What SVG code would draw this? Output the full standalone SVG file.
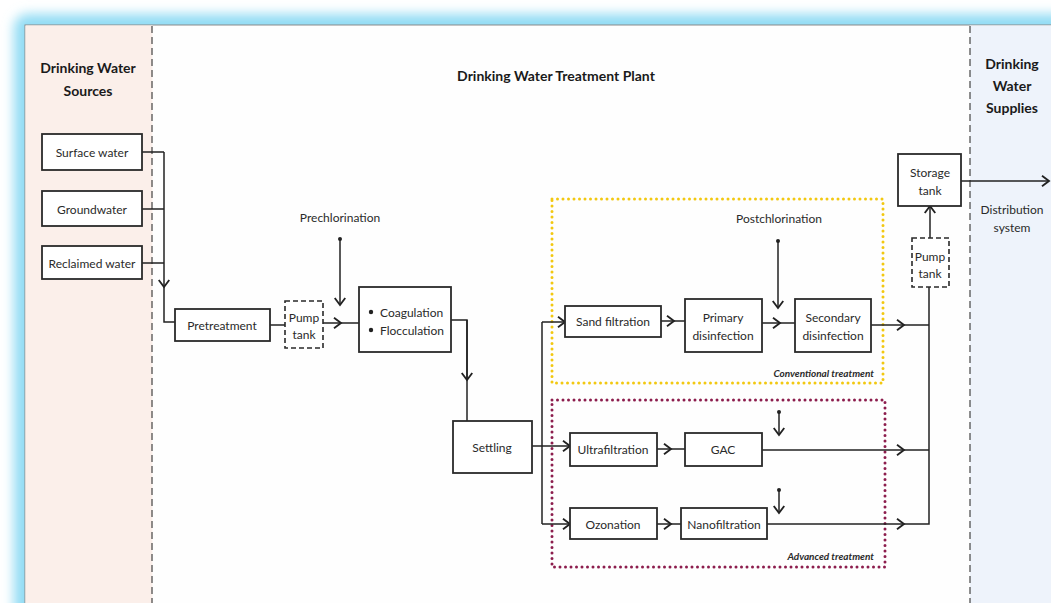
<svg xmlns="http://www.w3.org/2000/svg" width="1051" height="603" viewBox="0 0 1051 603">
<defs>
<filter id="glow" x="-5%" y="-5%" width="110%" height="110%"><feGaussianBlur stdDeviation="6"/></filter>
<marker id="chev" markerUnits="userSpaceOnUse" markerWidth="14" markerHeight="14" viewBox="-8 -6 10 12" refX="0" refY="0" orient="auto"><path d="M-6,-4.5 L0,0 L-6,4.5" fill="none" stroke="#222" stroke-width="1.6"/></marker>
<style>
text{font-family:Lato,"Open Sans","Liberation Sans",sans-serif;fill:#2a2a2a;text-anchor:middle;dominant-baseline:central;font-size:12px}
.title{font-weight:bold;font-size:14px;fill:#1a1a1a}
.box{fill:#fff;stroke:#2a2a2a;stroke-width:1.8}
.dash{fill:#fff;stroke:#2a2a2a;stroke-width:1.6;stroke-dasharray:5,3}
.ln{fill:none;stroke:#222;stroke-width:1.5}
.arr{fill:none;stroke:#222;stroke-width:1.5;marker-end:url(#chev)}
.note{font-size:10px;font-style:italic;font-weight:bold;text-anchor:end}
</style>
</defs>
<rect x="0" y="0" width="1051" height="603" fill="#fff"/>
<rect x="14" y="14" width="1100" height="700" rx="14" fill="#92dcf4" filter="url(#glow)"/>
<rect x="25" y="25" width="1040" height="600" fill="#fefefe" stroke="#8a8a8a" stroke-width="1"/>
<rect x="25.5" y="25.5" width="127" height="590" fill="#fbefea"/>
<rect x="970" y="25.5" width="90" height="590" fill="#eef3fb"/>
<line x1="152" y1="26" x2="152" y2="603" stroke="#444" stroke-width="1.2" stroke-dasharray="7,4"/>
<line x1="970" y1="26" x2="970" y2="603" stroke="#444" stroke-width="1.2" stroke-dasharray="7,4"/>

<g id="titles">
<text class="title" x="88" y="67">Drinking Water</text>
<text class="title" x="88" y="90">Sources</text>
<text class="title" x="556" y="75">Drinking Water Treatment Plant</text>
<text class="title" x="1012" y="63">Drinking</text>
<text class="title" x="1012" y="85">Water</text>
<text class="title" x="1012" y="107">Supplies</text>
</g>

<g id="groups">
<rect x="552" y="199" width="331" height="184" fill="none" stroke="#f2c811" stroke-width="3" stroke-dasharray="0,5.5" stroke-linecap="round"/>
<text class="note" x="874" y="373">Conventional treatment</text>
<rect x="552" y="400" width="333" height="167" fill="none" stroke="#8c1d4d" stroke-width="3" stroke-dasharray="0,5.5" stroke-linecap="round"/>
<text class="note" x="874" y="556">Advanced treatment</text>
</g>

<g id="connectors">
<path class="ln" d="M142,152 H164 M142,209 H164 M142,263 H164"/>
<path class="arr" d="M164,152 V287"/>
<path class="ln" d="M164,287 V322 H175"/>
<path class="ln" d="M270,325 H285"/>
<path class="arr" d="M323,323 H341"/>
<path class="ln" d="M341,323 H359"/>
<circle cx="340" cy="239" r="2" fill="#222"/>
<path class="arr" d="M340,239 V305"/>
<path class="ln" d="M451,320 H467 V380"/>
<path class="arr" d="M467,320 V380"/>
<path class="ln" d="M467,380 V421"/>
<path class="arr" d="M532,446 H570"/>
<path class="ln" d="M542,322 V524"/>
<path class="arr" d="M542,322 H565"/>
<path class="arr" d="M542,524 H570"/>
<path class="arr" d="M661,321 H674"/>
<path class="ln" d="M674,321 H685"/>
<path class="arr" d="M762,323 H780"/>
<path class="ln" d="M780,323 H795"/>
<circle cx="778" cy="241" r="2" fill="#222"/>
<path class="arr" d="M778,241 V308"/>
<path class="arr" d="M871,325 H904"/>
<path class="ln" d="M904,325 H929"/>
<path class="arr" d="M657,449 H671"/>
<path class="ln" d="M671,449 H685"/>
<path class="arr" d="M762,450 H904"/>
<path class="ln" d="M904,450 H929"/>
<path class="arr" d="M657,524 H671"/>
<path class="ln" d="M671,524 H681"/>
<path class="arr" d="M767,524 H904"/>
<path class="ln" d="M904,524 H929 V287"/>
<circle cx="779" cy="412" r="2" fill="#222"/>
<path class="arr" d="M779,412 V435"/>
<circle cx="779" cy="490" r="2" fill="#222"/>
<path class="arr" d="M779,490 V513"/>
<path class="arr" d="M930,238 V206"/>
<path class="arr" d="M961,181 H1049"/>
</g>

<g id="surface"><rect class="box" x="42" y="134" width="100" height="36"/><text x="92" y="152">Surface water</text></g>
<g id="ground"><rect class="box" x="42" y="191" width="100" height="35"/><text x="92" y="209">Groundwater</text></g>
<g id="reclaimed"><rect class="box" x="42" y="246" width="100" height="33"/><text x="92" y="263">Reclaimed water</text></g>
<g id="pretreatment"><rect class="box" x="175" y="309" width="95" height="32"/><text x="222" y="325">Pretreatment</text></g>
<g id="pump1"><rect class="dash" x="285" y="301" width="38" height="47"/><text x="304" y="317">Pump</text><text x="304" y="334">tank</text></g>
<g id="coag"><rect class="box" x="359" y="287" width="92" height="65"/>
<circle cx="371" cy="312" r="2.2" fill="#222"/><circle cx="371" cy="330" r="2.2" fill="#222"/>
<text x="380" y="312" style="text-anchor:start">Coagulation</text><text x="380" y="330" style="text-anchor:start">Flocculation</text></g>
<g id="prechlor"><text x="340" y="217">Prechlorination</text></g>
<g id="settling"><rect class="box" x="453" y="421" width="79" height="52"/><text x="492" y="447">Settling</text></g>
<g id="sand"><rect class="box" x="565" y="306" width="96" height="31"/><text x="613" y="321">Sand filtration</text></g>
<g id="primary"><rect class="box" x="685" y="299" width="77" height="53"/><text x="723" y="317">Primary</text><text x="723" y="335">disinfection</text></g>
<g id="postchlor"><text x="779" y="218">Postchlorination</text></g>
<g id="secondary"><rect class="box" x="795" y="299" width="76" height="53"/><text x="833" y="317">Secondary</text><text x="833" y="335">disinfection</text></g>
<g id="ultra"><rect class="box" x="570" y="433" width="87" height="33"/><text x="613" y="449">Ultrafiltration</text></g>
<g id="gac"><rect class="box" x="685" y="433" width="77" height="33"/><text x="723" y="449">GAC</text></g>
<g id="ozonation"><rect class="box" x="570" y="508" width="87" height="31"/><text x="613" y="524">Ozonation</text></g>
<g id="nano"><rect class="box" x="681" y="508" width="86" height="31"/><text x="724" y="524">Nanofiltration</text></g>
<g id="pump2"><rect class="dash" x="912" y="238" width="37" height="49"/><text x="930" y="256">Pump</text><text x="930" y="273">tank</text></g>
<g id="storage"><rect class="box" x="898" y="154" width="63" height="52"/><text x="930" y="172">Storage</text><text x="930" y="190">tank</text></g>
<g id="distribution"><text x="1012" y="209">Distribution</text><text x="1012" y="227">system</text></g>
</svg>
